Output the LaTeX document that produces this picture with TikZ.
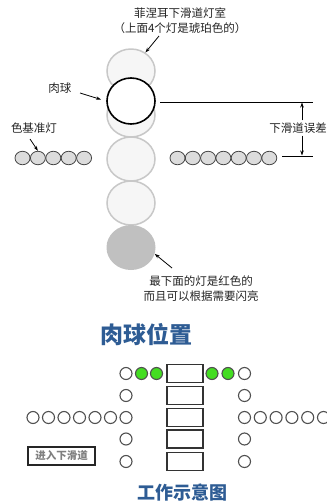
\documentclass[tikz,border=0pt]{standalone}
\usepackage{fontspec}
\setmainfont{Noto Sans CJK SC}
\newfontfamily\cjk{Noto Sans CJK SC}
\usetikzlibrary{arrows.meta,shapes.geometric}
\definecolor{lampfill}{RGB}{246,246,246}
\definecolor{lampedge}{RGB}{200,200,200}
\definecolor{redlamp}{RGB}{192,192,192}
\definecolor{datumfill}{RGB}{220,220,220}
\definecolor{datumedge}{RGB}{70,70,70}
\definecolor{titleblue}{RGB}{46,92,148}
\definecolor{greenlamp}{RGB}{68,221,34}
\definecolor{txt}{RGB}{35,35,35}
\definecolor{ringedge}{RGB}{80,80,80}
\begin{document}
\begin{tikzpicture}[x=1pt,y=-1pt,
  lamp/.style={ellipse,draw=lampedge,line width=1.5pt,fill=lampfill,minimum width=48pt,minimum height=44pt,inner sep=0pt},
  redl/.style={ellipse,fill=redlamp,minimum width=49pt,minimum height=45pt,inner sep=0pt},
  ball/.style={ellipse,draw=black,line width=1.6pt,fill=white,minimum width=48pt,minimum height=46pt,inner sep=0pt},
  datum/.style={ellipse,draw=datumedge,line width=0.8pt,fill=datumfill,minimum width=15pt,minimum height=13.5pt,inner sep=0pt},
  ring/.style={circle,draw=ringedge,line width=1.1pt,fill=white,minimum size=12pt,inner sep=0pt},
  gring/.style={ring,fill=greenlamp},
  cell/.style={rectangle,draw=black!80,line width=1.1pt,fill=white,minimum width=36pt,minimum height=18pt,inner sep=0pt},
  lbl/.style={font=\cjk\fontsize{11.5}{15}\selectfont,text=txt,inner sep=0pt,align=center},
  arr/.style={-{Stealth[length=5pt,width=3.5pt]},line width=0.8pt,draw=black},
  rule/.style={line width=0.8pt,draw=black}]
\useasboundingbox (0,0) rectangle (327,504);
% glide slope lamp column
\node[lamp] (L1) at (131,71) {};
\node[lamp] (L2) at (131,115) {};
\node[lamp] (L3) at (131,159) {};
\node[lamp] (L4) at (131,203) {};
\node[redl] (L5) at (131,247.5) {};
\node[ball] (ball) at (131,101) {};
% datum lights
\foreach \i in {0,...,4} {\node[datum] (dl\i) at (22.5+15.4*\i,158) {};}
\foreach \i in {0,...,6} {\node[datum] (dr\i) at (177.5+15.3*\i,158) {};}
% labels
\node[lbl] (tLamp) at (180,20.5) {菲涅耳下滑道灯室\\（上面4个灯是琥珀色的）};
\coordinate (tLampTail) at (159,36);
\draw[arr] (tLampTail) -- (L1.52);
\node[lbl] (tBall) at (60,88) {肉球};
\coordinate (tBallTail) at (80,93);
\coordinate (tBallHead) at (101,99.5);
\draw[arr] (tBallTail) -- (tBallHead);
\node[lbl] (tDatum) at (34,128) {色基准灯};
\coordinate (tDatumTail) at (30,139);
\draw[arr] (tDatumTail) -- (dl1.north);
% error lines
\coordinate (errA) at (160,102);
\coordinate (errB) at (313,102);
\coordinate (errC) at (282,156);
\coordinate (errD) at (313,156);
\draw[rule] (errA) -- (errB);
\draw[rule] (errC) -- (errD);
\node[lbl] (tErr) at (298,128) {下滑道误差};
\coordinate (errTop) at (302,102.5);
\coordinate (errBot) at (302,155.5);
\draw[arr] (tErr.north -| errTop) ++(0,-2) -- (errTop);
\draw[arr] (tErr.south -| errTop) ++(0,2) -- (errBot);
\node[lbl] (tRed) at (201,289) {最下面的灯是红色的\\而且可以根据需要闪亮};
\coordinate (tRedTail) at (172,268);
\draw[arr] (tRedTail) -- (L5.-15);
% titles
\node[font=\cjk\bfseries\fontsize{23}{26}\selectfont,text=titleblue,inner sep=0pt] (title1) at (146.5,335) {肉球位置};
\node[font=\cjk\bfseries\fontsize{18}{20}\selectfont,text=titleblue,inner sep=0pt] (title2) at (182,493) {工作示意图};
% working diagram
\foreach \r/\y in {1/373.5,2/395.5,3/417.5,4/439,5/461.5} {
  \node[cell] (c\r) at (185,\y) {};
  \node[ring] (lc\r) at (126,\y) {};
  \node[ring] (rc\r) at (244.5,\y) {};
}
\node[gring] (g1) at (141.5,373.5) {};
\node[gring] (g2) at (156.5,373.5) {};
\node[gring] (g3) at (212,373.5) {};
\node[gring] (g4) at (228,373.5) {};
\foreach \i in {1,...,6} {\node[ring] (lx\i) at (126-15.5*\i,417.5) {};}
\foreach \i in {1,...,5} {\node[ring] (rx\i) at (244.5+15.8*\i,417.5) {};}
\node[rectangle,draw=black!85,line width=1.1pt,fill=white,minimum width=67pt,minimum height=18pt,inner sep=0pt,font=\cjk\bfseries\fontsize{10.5}{12}\selectfont,text=black!50] (enter) at (61.5,456) {进入下滑道};
\end{tikzpicture}
\end{document}
